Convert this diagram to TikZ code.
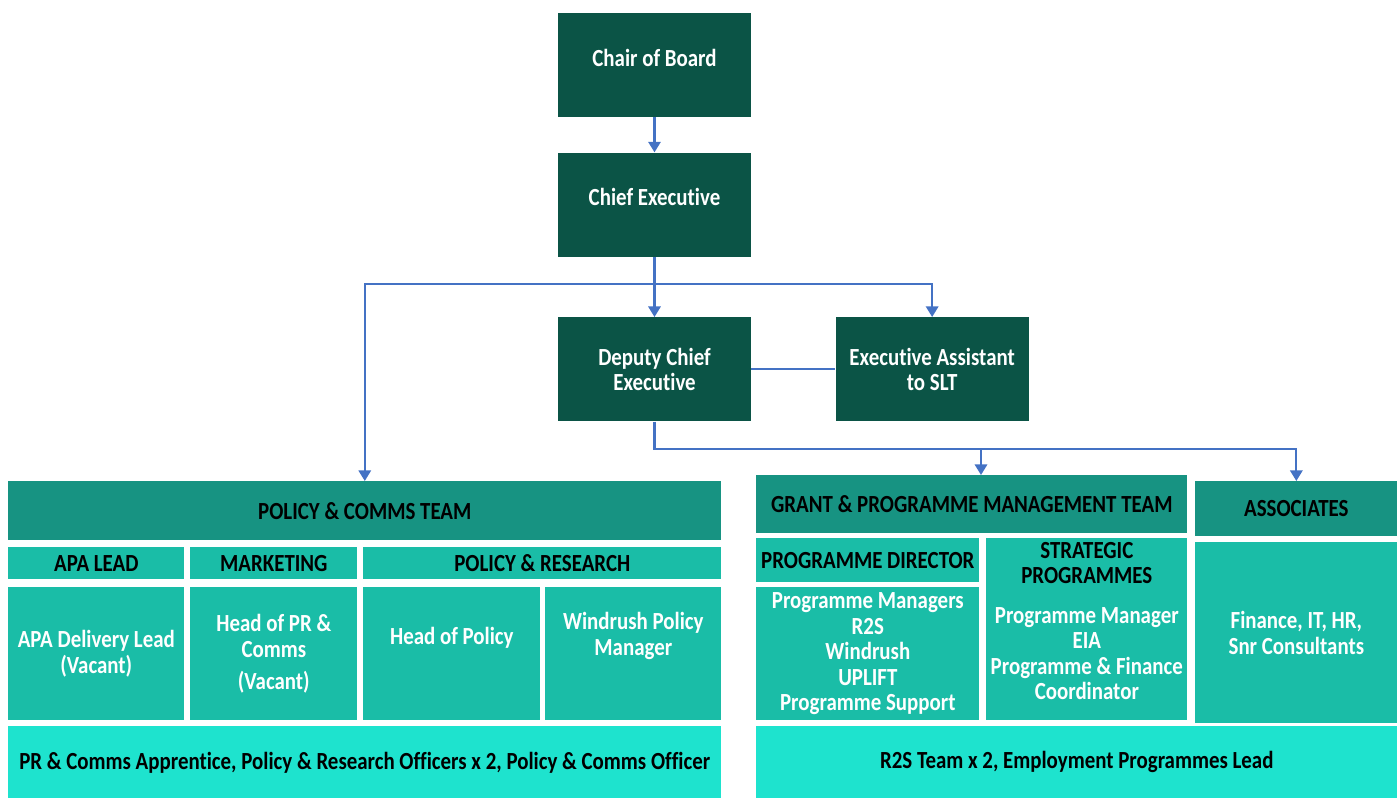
\documentclass[tikz,border=0pt]{standalone}
\usepackage{fontspec}
\setmainfont{Carlito}[FakeStretch=0.85, Ligatures=NoCommon]
\usetikzlibrary{positioning,arrows.meta}

\definecolor{execgreen}{HTML}{0B5446}
\definecolor{teamgreen}{HTML}{179382}
\definecolor{unitteal}{HTML}{1ABDA7}
\definecolor{staffteal}{HTML}{1EE3CE}
\definecolor{linkblue}{HTML}{4472C4}

\tikzset{
  box/.style={rectangle, inner sep=2pt, align=center, font=\fontsize{14}{14.5}\selectfont\bfseries},
  lead/.style={box, fill=execgreen, text=white, minimum width=3.86cm, minimum height=2.08cm},
  head/.style={box, fill=teamgreen, text=black, anchor=north west},
  sub/.style={box, fill=unitteal, text=black, anchor=north west},
  role/.style={box, fill=unitteal, text=white, anchor=north west},
  pool/.style={box, fill=staffteal, text=black, anchor=north west},
  reports/.style={draw=linkblue, line width=1.2pt, -{Triangle[length=6pt,width=7pt]}},
  tie/.style={draw=linkblue, line width=1.2pt}
}

\begin{document}
\begin{tikzpicture}[x=0.02cm, y=-0.02cm]
  \useasboundingbox (0,0) rectangle (1400,798);

  % senior team
  \node[lead, text depth=0.3cm] (chair) at (654.5,65) {Chair of Board};
  \node[lead, text depth=0.3cm, below=0.7cm of chair] (chief) {Chief Executive};
  \node[lead, below=1.2cm of chief] (deputy) {Deputy Chief\\Executive};
  \node[lead, right=1.68cm of deputy] (ea) {Executive Assistant\\to SLT};

  % policy & comms
  \node[head, minimum width=14.26cm, minimum height=1.18cm] (pct) at (8,481) {POLICY \& COMMS TEAM};
  \node[sub, minimum width=3.52cm, minimum height=0.64cm] (apa) at (8,547) {APA LEAD};
  \node[sub, minimum width=3.34cm, minimum height=0.64cm] (mkt) at (190,547) {MARKETING};
  \node[sub, minimum width=7.16cm, minimum height=0.64cm] (polres) at (363,547) {POLICY \& RESEARCH};
  \node[role, minimum width=3.52cm, minimum height=2.66cm] (apadel) at (8,587) {APA Delivery Lead\\(Vacant)};
  \node[role, minimum width=3.34cm, minimum height=2.66cm] (headpr) at (190,587) {Head of PR \&\\Comms\\[4pt](Vacant)};
  \node[role, minimum width=3.54cm, minimum height=2.66cm, text depth=0.7cm] (headpol) at (363,587) {Head of Policy};
  \node[role, minimum width=3.52cm, minimum height=2.66cm] (wpm) at (545,587) {Windrush Policy\\Manager\\[8pt]\mbox{}};
  \node[pool, minimum width=14.26cm, minimum height=1.44cm] (ppool) at (8,726) {PR \& Comms Apprentice, Policy \& Research Officers x 2, Policy \& Comms Officer};

  % grants & associates
  \node[head, minimum width=8.62cm, minimum height=1.16cm] (gpm) at (756,475) {GRANT \& PROGRAMME MANAGEMENT TEAM};
  \node[head, minimum width=4.04cm, minimum height=1.10cm] (assoc) at (1195,481) {ASSOCIATES};
  \node[sub, minimum width=4.46cm, minimum height=0.88cm] (pdir) at (756,538) {PROGRAMME DIRECTOR};
  \node[sub, minimum width=4.02cm, minimum height=0.88cm] (strat) at (986,538) {STRATEGIC\\PROGRAMMES};
  \node[role, minimum width=4.46cm, minimum height=2.66cm] (pmgrs) at (756,587) {Programme Managers\\R2S\\Windrush\\UPLIFT\\Programme Support};
  \node[role, minimum width=4.02cm, minimum height=2.66cm] (pmgr) at (986,587) {Programme Manager\\EIA\\Programme \& Finance\\Coordinator};
  \node[role, minimum width=4.04cm, minimum height=3.62cm] (assocs) at (1195,542) {Finance, IT, HR,\\Snr Consultants};
  \node[pool, minimum width=12.82cm, minimum height=1.44cm] (gpool) at (756,726) {R2S Team x 2, Employment Programmes Lead};

  % reporting lines
  \coordinate (cbus) at (654.5,284);
  \coordinate (dbus) at (981,449);
  \draw[reports] (chair) -- (chief);
  \draw[reports] (chief) -- (deputy);
  \draw[reports] (cbus) -| (ea);
  \draw[reports] (cbus) -| (pct);
  \draw[tie] (deputy) -- (ea);
  \draw[reports] (deputy) |- (dbus) -- (dbus |- gpm.north);
  \draw[reports] (dbus) -| (assoc);
\end{tikzpicture}
\end{document}
